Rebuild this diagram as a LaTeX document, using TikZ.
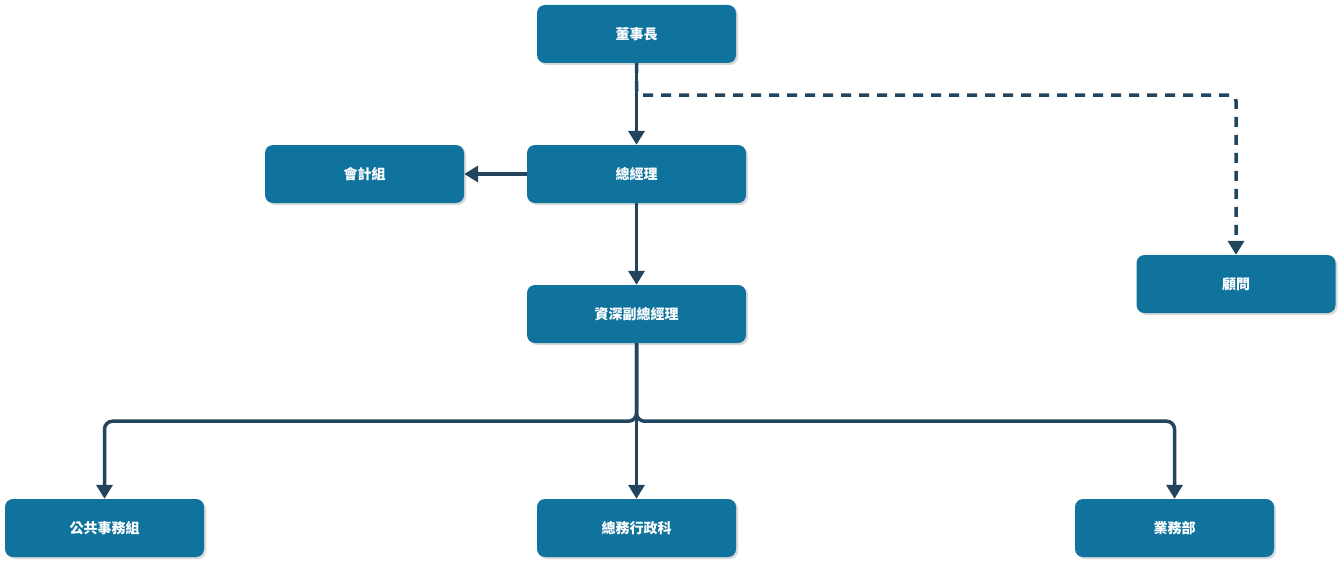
\documentclass[tikz,border=0pt]{standalone}
\usepackage{fontspec}
\setmainfont{Noto Sans CJK TC}
\usetikzlibrary{arrows.meta,shadows}
\definecolor{boxblue}{HTML}{10739E}
\definecolor{linknavy}{HTML}{23445D}

\begin{document}
\begin{tikzpicture}[x=1pt, y=-1pt,
    every node/.style={
        rectangle,
        rounded corners=8pt,
        minimum width=199pt,
        minimum height=58pt,
        inner sep=0pt,
        fill=boxblue,
        text=white,
        font=\fontsize{14}{16}\selectfont\bfseries,
        drop shadow={shadow xshift=2pt, shadow yshift=-2pt, opacity=0.25, fill=black!60}
    },
    link/.style={
        draw=linknavy,
        line width=3.5pt,
        -{Triangle[width=16pt,length=14pt]}
    },
    dashlink/.style={
        link,
        dash pattern=on 10pt off 8pt,
        rounded corners=6pt
    },
    treelink/.style={
        link,
        rounded corners=8pt
    }]
    \useasboundingbox (0,0) rectangle (1343,567);
    \node (chairman) [shift={(636.5, 34)}]
    {
        董事長
    };
    \node (general_manager) [minimum width=219pt, shift={(636.5, 174)}]
    {
        總經理
    };
    \node (accounting) [shift={(364.5, 174)}]
    {
        會計組
    };
    \node (senior_vp) [minimum width=219pt, shift={(636.5, 314)}]
    {
        資深副總經理
    };
    \node (advisor) [shift={(1236, 284)}]
    {
        顧問
    };
    \node (public_affairs) [shift={(104.5, 528)}]
    {
        公共事務組
    };
    \node (general_affairs) [shift={(636.5, 528)}]
    {
        總務行政科
    };
    \node (business) [shift={(1174.5, 528)}]
    {
        業務部
    };
    \draw[link] (chairman) to (general_manager);
    \draw[dashlink] (chairman.south) -- ++(0, 32) -| (advisor.north);
    \draw[link] (general_manager) to (accounting);
    \draw[link] (general_manager) to (senior_vp);
    \draw[treelink] (senior_vp.south) -- ++(0, 78) -| (public_affairs.north);
    \draw[link] (senior_vp) to (general_affairs);
    \draw[treelink] (senior_vp.south) -- ++(0, 78) -| (business.north);
\end{tikzpicture}
\end{document}
